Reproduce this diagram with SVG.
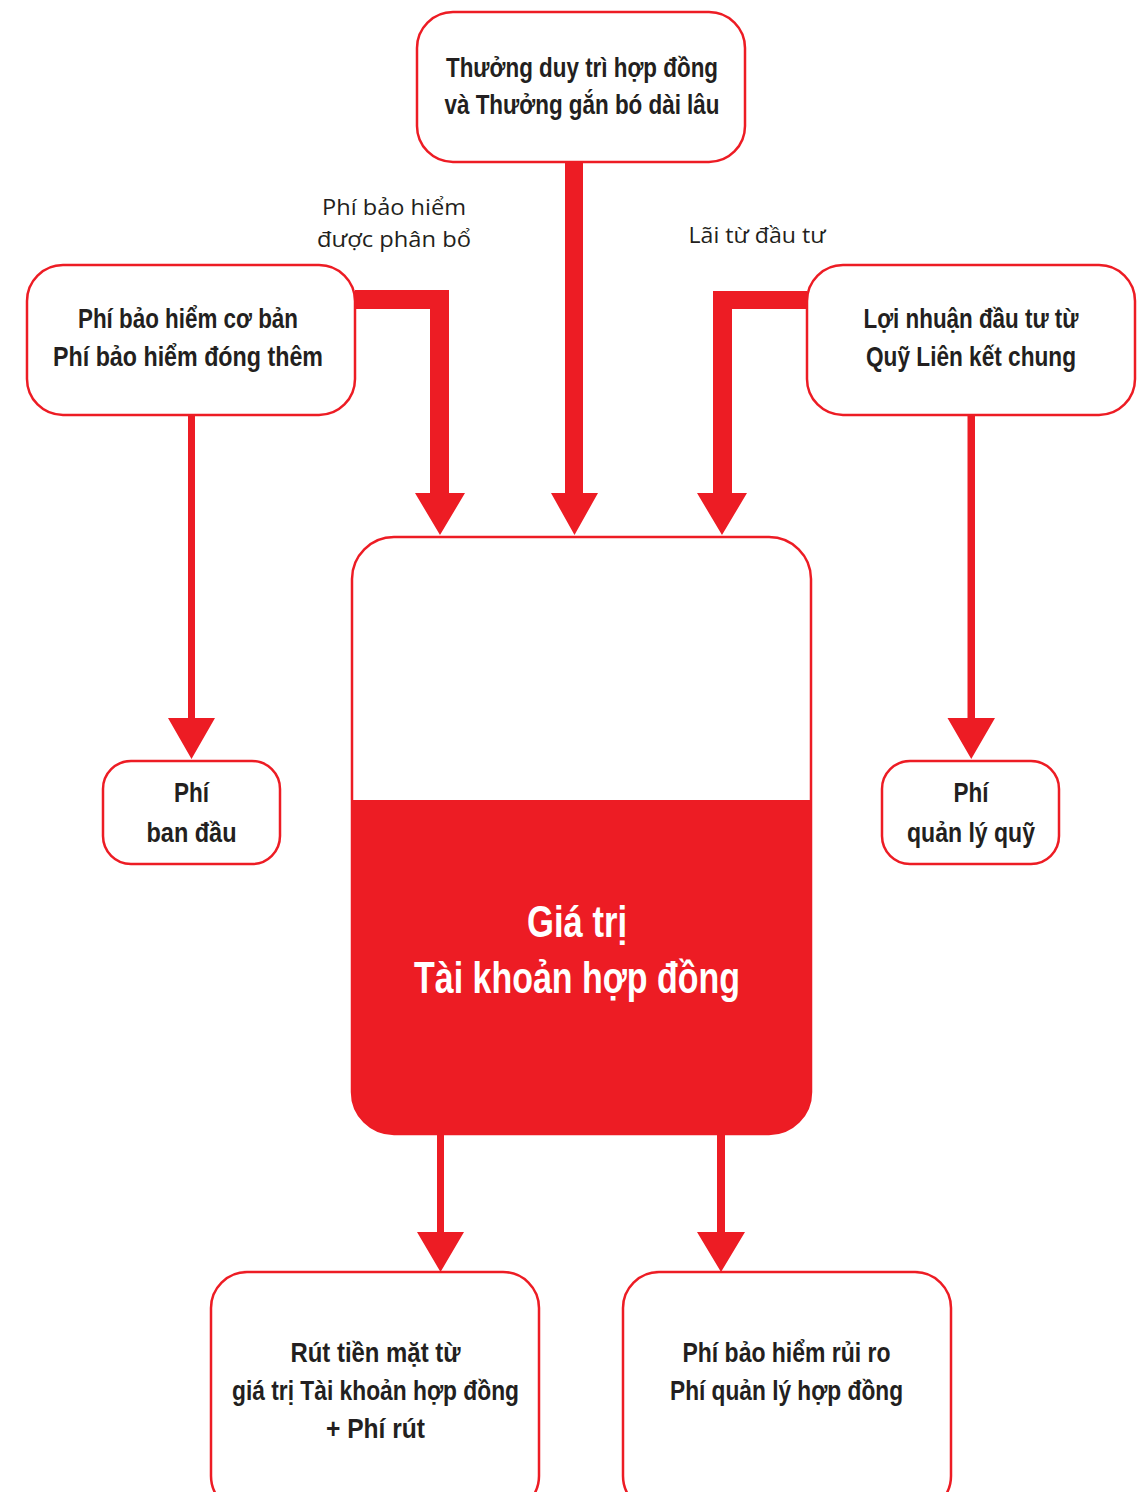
<svg xmlns="http://www.w3.org/2000/svg" width="1138" height="1492" viewBox="0 0 1138 1492">
<style>
.box{fill:#fff;stroke:#ED1C24;stroke-width:2.5}
.t{font-family:"Liberation Sans",Arial,sans-serif;font-weight:bold;fill:#231F20;text-anchor:middle;font-size:28px}
.ts{font-size:27px}
.lbl{font-family:"Open Sans","Liberation Sans",sans-serif;fill:#231F20;font-size:22px;text-anchor:middle}
.big{font-family:"Liberation Sans",Arial,sans-serif;font-weight:bold;fill:#fff;text-anchor:middle;font-size:44px}
.c{fill:#ED1C24}
</style>
<rect width="1138" height="1492" fill="#fff"/>
<g id="connectors" class="c">
<path d="M565,162 H583 V493 H598 L574.5,535 L551,493 H565 Z"/>
<path d="M355,290 H449 V493 H465 L440,535 L415,493 H430 V309 H355 Z"/>
<path d="M807,291 H713 V493 H697 L722,535 L747,493 H732 V309 H807 Z"/>
<path d="M188,415 H195 V718 H215 L191.5,759 L168,718 H188 Z"/>
<path d="M967.5,415 H975 V718 H995 L971.25,759 L947.5,718 H967.5 Z"/>
<path d="M437,1133 H444 V1232 H464 L440.5,1272 L417,1232 H437 Z"/>
<path d="M717,1133 H725 V1232 H745 L721,1272 L697,1232 H717 Z"/>
</g>
<g id="lbl-left">
<text class="lbl" x="394" y="215" textLength="144" lengthAdjust="spacingAndGlyphs">Phí bảo hiểm</text>
<text class="lbl" x="394" y="247" textLength="154" lengthAdjust="spacingAndGlyphs">được phân bổ</text>
</g>
<g id="lbl-right">
<text class="lbl" x="757" y="243" textLength="137" lengthAdjust="spacingAndGlyphs">Lãi từ đầu tư</text>
</g>
<g id="node-top">
<rect class="box" x="417" y="12" width="328" height="150" rx="36"/>
<text class="t" x="582" y="77" textLength="272" lengthAdjust="spacingAndGlyphs">Thưởng duy trì hợp đồng</text>
<text class="t" x="582" y="114" textLength="275" lengthAdjust="spacingAndGlyphs">và Thưởng gắn bó dài lâu</text>
</g>
<g id="node-left">
<rect class="box" x="27" y="265" width="328" height="150" rx="36"/>
<text class="t" x="188" y="328" textLength="220" lengthAdjust="spacingAndGlyphs">Phí bảo hiểm cơ bản</text>
<text class="t" x="188" y="366" textLength="270" lengthAdjust="spacingAndGlyphs">Phí bảo hiểm đóng thêm</text>
</g>
<g id="node-right">
<rect class="box" x="807" y="265" width="328" height="150" rx="36"/>
<text class="t" x="971" y="328" textLength="215" lengthAdjust="spacingAndGlyphs">Lợi nhuận đầu tư từ</text>
<text class="t" x="971" y="366" textLength="210" lengthAdjust="spacingAndGlyphs">Quỹ Liên kết chung</text>
</g>
<g id="node-phi-ban-dau">
<rect class="box" x="103" y="761" width="177" height="103" rx="28"/>
<text class="t" x="191.5" y="802" textLength="35" lengthAdjust="spacingAndGlyphs">Phí</text>
<text class="t" x="191.5" y="842" textLength="90" lengthAdjust="spacingAndGlyphs">ban đầu</text>
</g>
<g id="node-phi-quan-ly-quy">
<rect class="box" x="882" y="761" width="177" height="103" rx="28"/>
<text class="t" x="971" y="802" textLength="35" lengthAdjust="spacingAndGlyphs">Phí</text>
<text class="t" x="971" y="842" textLength="128" lengthAdjust="spacingAndGlyphs">quản lý quỹ</text>
</g>
<g id="node-center">
<rect class="box" x="352" y="537" width="459" height="597" rx="42"/>
<path class="c" d="M352,800 H811 V1092 A42,42 0 0 1 769,1134 H394 A42,42 0 0 1 352,1092 Z"/>
<text class="big" x="577" y="937" textLength="100" lengthAdjust="spacingAndGlyphs">Giá trị</text>
<text class="big" x="577" y="993" textLength="326" lengthAdjust="spacingAndGlyphs">Tài khoản hợp đồng</text>
</g>
<g id="node-bottom-left">
<rect class="box" x="211" y="1272" width="328" height="240" rx="36"/>
<text class="t" x="375.5" y="1362" textLength="170" lengthAdjust="spacingAndGlyphs">Rút tiền mặt từ</text>
<text class="t" x="375.5" y="1400" textLength="287" lengthAdjust="spacingAndGlyphs">giá trị Tài khoản hợp đồng</text>
<text class="t" x="375.5" y="1438" textLength="99" lengthAdjust="spacingAndGlyphs">+ Phí rút</text>
</g>
<g id="node-bottom-right">
<rect class="box" x="623" y="1272" width="328" height="240" rx="36"/>
<text class="t" x="786.5" y="1362" textLength="208" lengthAdjust="spacingAndGlyphs">Phí bảo hiểm rủi ro</text>
<text class="t" x="786.5" y="1400" textLength="233" lengthAdjust="spacingAndGlyphs">Phí quản lý hợp đồng</text>
</g>
</svg>
